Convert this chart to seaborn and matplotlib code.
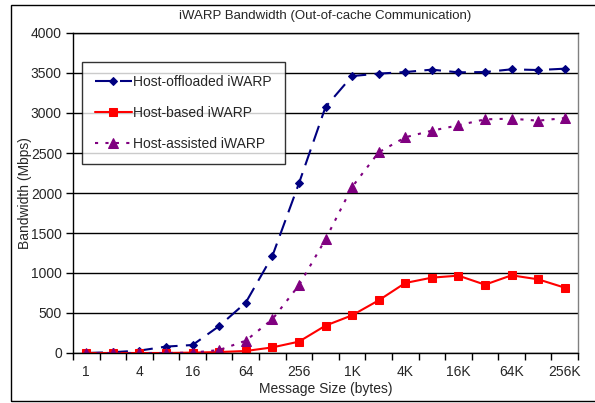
import matplotlib
matplotlib.use("Agg")
import matplotlib.pyplot as plt
import seaborn as sns
import pandas as pd
import numpy as np
from matplotlib.patches import Rectangle

sizes = ["1", "2", "4", "8", "16", "32", "64", "128", "256", "512",
         "1K", "2K", "4K", "8K", "16K", "32K", "64K", "128K", "256K"]
offloaded = [0, 10, 30, 80, 100, 337, 630, 1212, 2120, 3075,
             3462, 3492, 3512, 3542, 3508, 3512, 3546, 3537, 3554]
host_based = [0, 0, 0, 0, 5, 12, 25, 70, 142, 342,
              471, 658, 875, 942, 967, 854, 971, 921, 817]
assisted = [0, 0, 0, 0, 5, 37, 154, 421, 846, 1421,
            2075, 2508, 2696, 2779, 2846, 2921, 2929, 2904, 2937]
tick_labels = ["1", "4", "16", "64", "256", "1K", "4K", "16K", "64K", "256K"]

sns.set_theme(style="white")
plt.rcParams['font.family'] = ['Liberation Sans', 'DejaVu Sans']

fig = plt.figure(figsize=(5.95, 4.03), dpi=100)
W, H = 595, 403
ax = fig.add_axes([73 / W, 1 - 353 / H, (578 - 73) / W, (353 - 33) / H])

# outer frame
fig.patches.append(Rectangle((11 / W, 1 - 401 / H), 1.2, (401 - 5) / H,
                             transform=fig.transFigure, fill=False,
                             edgecolor="black", linewidth=1.0))

df = pd.DataFrame({"idx": np.arange(len(sizes)), "size": sizes,
                   "off": offloaded, "based": host_based, "assist": assisted})

sns.lineplot(data=df, x="idx", y="off", ax=ax, color="#000080",
             linewidth=1.5, marker="D", markersize=4.5, markeredgecolor="#000080",
             label="Host-offloaded iWARP")
ax.lines[-1].set_dashes([8, 4])
sns.lineplot(data=df, x="idx", y="based", ax=ax, color="#FF0000",
             linewidth=1.5, marker="s", markersize=6, markeredgecolor="#FF0000",
             label="Host-based iWARP")
sns.lineplot(data=df, x="idx", y="assist", ax=ax, color="#800080",
             linewidth=1.5, marker="^", markersize=6.5, markeredgecolor="#800080",
             label="Host-assisted iWARP")
ax.lines[-1].set_dashes([1.5, 3.5])

ax.set_xlim(-0.5, len(sizes) - 0.5)
ax.set_ylim(0, 4000)
ax.set_yticks(np.arange(0, 4001, 500))
ax.yaxis.grid(True, color="black", linewidth=1.0)
ax.set_axisbelow(True)

ax.set_xticks(np.arange(0, len(sizes), 2))
ax.set_xticklabels(tick_labels, fontsize=10)
ax.set_xticks(np.arange(-0.5, len(sizes), 1), minor=True)
ax.tick_params(axis="x", which="major", length=0, pad=9)
ax.tick_params(axis="x", which="minor", length=5, width=1, color="black", direction="out", bottom=True)
ax.tick_params(axis="y", length=5, width=1, color="black", direction="out", left=True, labelsize=10, pad=3)

for s in ["left", "bottom", "top"]:
    ax.spines[s].set_color("black")
    ax.spines[s].set_linewidth(1.0)
ax.spines["right"].set_color("#808080")
ax.spines["right"].set_linewidth(1.0)

ax.set_xlabel("Message Size (bytes)", fontsize=10, labelpad=2)
ax.set_ylabel("Bandwidth (Mbps)", fontsize=10, labelpad=-1)
fig.text(325 / W, 1 - 16 / H, "iWARP Bandwidth (Out-of-cache Communication)",
         ha="center", va="center", fontsize=9.5)

leg = ax.legend(loc="upper left", bbox_to_anchor=((82 - 73) / (578 - 73), (353 - 62) / 320),
                frameon=True, fancybox=False, fontsize=10, labelspacing=1.25,
                handlelength=2.7, borderpad=0.9, handletextpad=0.1, borderaxespad=0)
leg.get_frame().set_edgecolor("black")
leg.get_frame().set_linewidth(1.0)

fig.savefig("out.png", dpi=100)
